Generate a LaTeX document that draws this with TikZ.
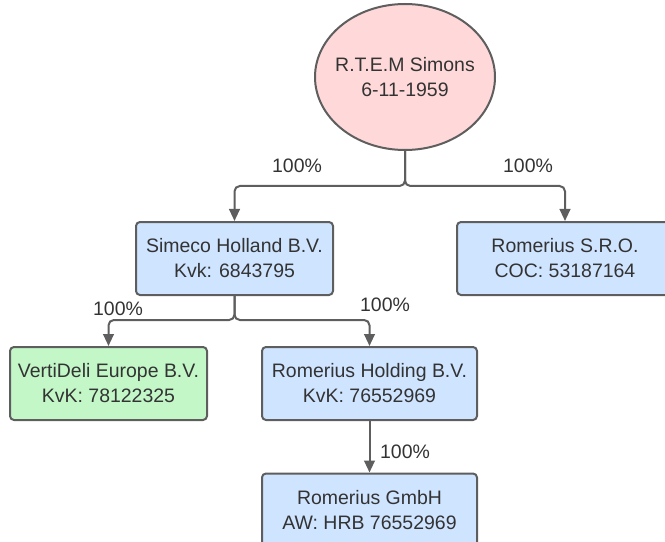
\documentclass[tikz,border=0pt]{standalone}
\usepackage{fontspec}
\setmainfont{Liberation Sans}
\usetikzlibrary{shapes.geometric,arrows.meta}
\definecolor{linegray}{HTML}{5E5E5E}
\definecolor{textgray}{HTML}{333333}
\definecolor{personpink}{HTML}{FFD9D9}
\definecolor{firmblue}{HTML}{CFE4FF}
\definecolor{firmgreen}{HTML}{C3F7C8}
\tikzset{
  firm/.style={draw=linegray,line width=1.5pt,rounded corners=3pt,fill=firmblue,
    text=textgray,align=center,minimum width=147.75pt,minimum height=54.75pt,
    font=\fontsize{14.6}{18.8}\selectfont},
  share/.style={text=textgray,font=\fontsize{14.6}{17}\selectfont},
  owns/.style={draw=linegray,line width=1.5pt,rounded corners=4pt,
    -{Triangle[width=8pt,length=9pt]}}
}
\begin{document}
\begin{tikzpicture}[x=0.75pt,y=-0.75pt]
\useasboundingbox (0,0) rectangle (665,542);
% the owner
\node[ellipse,draw=linegray,line width=1.5pt,fill=personpink,inner sep=0pt,
  minimum width=135pt,minimum height=109.5pt] (simons) at (405,77) {};
\node[text=textgray,align=center,font=\fontsize{14.6}{18.8}\selectfont]
  (simonstext) at (simons) {R.T.E.M Simons\\6-11-1959};
% the companies
\node[firm] (simeco) at (234.5,258.5) {Simeco Holland B.V.\\Kvk: 6843795};
\node[firm,minimum width=162pt] (sro) at (565,258.5) {Romerius S.R.O.\\COC: 53187164};
\node[firm,fill=firmgreen] (verti) at (108.5,383.5) {VertiDeli Europe B.V.\\KvK: 78122325};
\node[firm,minimum width=161.25pt] (holding) at (369.5,383.5) {Romerius Holding B.V.\\KvK: 76552969};
\node[firm,minimum width=161.25pt] (gmbh) at (369.5,510) {Romerius GmbH\\AW: HRB 76552969};
% the branch points
\coordinate (split1) at (405,186);
\coordinate (split2) at (234.5,320);
% the shares
\draw[owns] (simons.south) -- (split1) -| (simeco.north);
\draw[owns] (simons.south) -- (split1) -| (sro.north);
\draw[owns] (simeco.south) -- (split2) -| (verti.north);
\draw[owns] (simeco.south) -- (split2) -| (holding.north);
\draw[owns] (holding.south) -- (gmbh.north);
\node[share] (p1) at (297,166) {100\%};
\node[share] (p2) at (528,166) {100\%};
\node[share] (p3) at (118,309) {100\%};
\node[share] (p4) at (385,305) {100\%};
\node[share] (p5) at (405,452) {100\%};
\end{tikzpicture}
\end{document}
